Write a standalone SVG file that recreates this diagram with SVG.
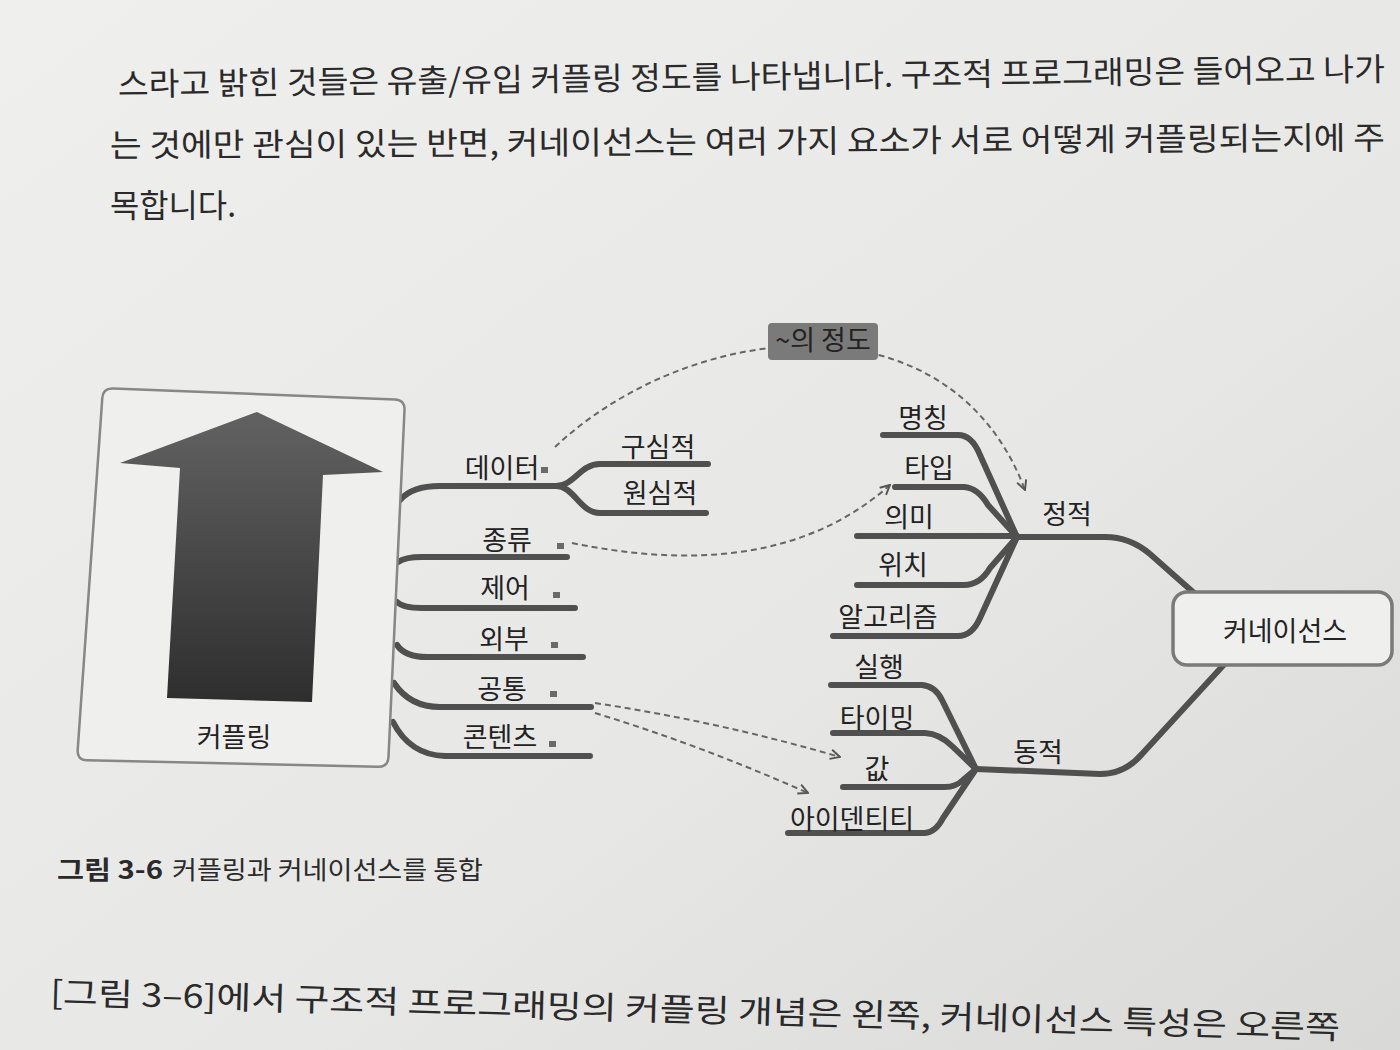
<svg xmlns="http://www.w3.org/2000/svg" width="1400" height="1050" viewBox="0 0 1400 1050">
<defs>
<linearGradient id="page" x1="0" y1="0" x2="1" y2="1">
<stop offset="0" stop-color="#efefed"/>
<stop offset="0.6" stop-color="#e7e7e5"/>
<stop offset="1" stop-color="#d9d9d7"/>
</linearGradient>
<linearGradient id="arrowFill" x1="0" y1="0" x2="0" y2="1">
<stop offset="0" stop-color="#626262"/>
<stop offset="1" stop-color="#2e2e2e"/>
</linearGradient>
<marker id="open" viewBox="0 0 10 10" refX="9" refY="5" markerWidth="12" markerHeight="12" markerUnits="userSpaceOnUse" orient="auto">
<path d="M1,1 L9,5 L1,9" fill="none" stroke="#555" stroke-width="1.6"/>
</marker>
</defs>
<style>
.body{font-family:"Noto Sans CJK KR","Noto Sans CJK SC",sans-serif;font-size:32px;fill:#2a2a2a}
.lbl{font-family:"Noto Sans CJK KR","Noto Sans CJK SC",sans-serif;font-size:27px;fill:#222;text-anchor:middle}
.cap{font-family:"Noto Sans CJK KR","Noto Sans CJK SC",sans-serif;font-size:25px;fill:#2a2a2a}
.br{fill:none;stroke:#505050;stroke-width:6;stroke-linecap:round;stroke-linejoin:round}
.dash{fill:none;stroke:#666;stroke-width:2;stroke-dasharray:6 4}
.icon{fill:#6a6a6a}
</style>
<rect x="0" y="0" width="1400" height="1050" fill="url(#page)"/>

<g id="page-text">
<text class="body" x="118" y="96" textLength="1267" lengthAdjust="spacingAndGlyphs" transform="rotate(-0.7 118 96)">스라고 밝힌 것들은 유출/유입 커플링 정도를 나타냅니다. 구조적 프로그래밍은 들어오고 나가</text>
<text class="body" x="110" y="157" textLength="1275" lengthAdjust="spacingAndGlyphs" transform="rotate(-0.35 110 157)">는 것에만 관심이 있는 반면, 커네이선스는 여러 가지 요소가 서로 어떻게 커플링되는지에 주</text>
<text class="body" x="110" y="217" textLength="126" lengthAdjust="spacingAndGlyphs">목합니다.</text>
<text class="body" x="50" y="1004" textLength="1290" lengthAdjust="spacingAndGlyphs" transform="rotate(1.55 50 1004)">[그림 3–6]에서 구조적 프로그래밍의 커플링 개념은 왼쪽, 커네이선스 특성은 오른쪽</text>
</g>

<g id="caption">
<text class="cap" x="57" y="879" font-weight="bold" textLength="106" lengthAdjust="spacingAndGlyphs">그림 3-6</text>
<text class="cap" x="172" y="879" textLength="311" lengthAdjust="spacingAndGlyphs">커플링과 커네이선스를 통합</text>
</g>

<g id="connectors">
<path class="br" d="M400,500 Q412,486 440,486 H556"/>
<path class="br" d="M556,486 C574,486 580,464 600,464 H708"/>
<path class="br" d="M556,486 C574,486 580,513 600,513 H706"/>
<path class="br" stroke="#5c5c5c" d="M398,562 Q405,557 422,557 H567"/>
<path class="br" stroke="#444" d="M397,602 Q403,608 422,608 H575"/>
<path class="br" stroke="#a0a0a0" d="M397,645 Q405,657 427,657 H583"/>
<path class="br" stroke="#5e5e5e" d="M394,683 Q410,707 440,707 H591"/>
<path class="br" stroke="#444" d="M393,722 Q410,755 445,756 H590"/>
<path class="br" d="M883,435 H958 Q972,435 980,455 L1017,537"/>
<path class="br" d="M895,487 H964 Q978,488 988,505 L1017,537"/>
<path class="br" d="M857,536 H1017"/>
<path class="br" d="M857,585 H964 Q980,585 990,568 L1017,537"/>
<path class="br" d="M833,636 H958 Q972,636 980,618 L1017,537"/>
<path class="br" d="M1017,537 H1105 Q1130,537 1150,554 L1202,600"/>
<path class="br" d="M831,685 H922 Q935,686 942,700 L976,769"/>
<path class="br" d="M833,733 H925 Q940,734 952,746 L976,769"/>
<path class="br" d="M843,787 H945 Q956,787 963,780 L976,769"/>
<path class="br" d="M788,833 H925 Q936,832 943,818 L976,769"/>
<path class="br" d="M976,769 L1100,774 Q1125,774 1142,754 L1230,658"/>
<path class="dash" d="M555,447 C690,320 950,290 1025,490" marker-end="url(#open)"/>
<path class="dash" d="M572,543 C680,565 800,565 890,485" marker-end="url(#open)"/>
<path class="dash" d="M595,703 Q720,722 840,757" marker-end="url(#open)"/>
<path class="dash" d="M595,713 Q700,745 808,793" marker-end="url(#open)"/>
</g>

<g id="coupling">
<path d="M113,388.4 L395,399.6 Q405,400 404.5,410 L388.5,757 Q388,767 378,766.8 L87,760.2 Q77,760 77.7,750 L102.3,398 Q103,388 113,388.4 Z" fill="#efefed" stroke="#878787" stroke-width="2.5"/>
<polygon points="257,412 383,472 323,475 312,702 167,698 180,468 120,463" fill="url(#arrowFill)"/>
<text class="lbl" x="234" y="747" font-size="28">커플링</text>
</g>

<g id="degree">
<rect x="768" y="323" width="110" height="37" rx="4" fill="#7a7a7a"/>
<text class="lbl" x="823" y="350" font-size="19" fill="#555">~의 정도</text>
</g>

<g id="connascence">
<rect x="1173" y="592" width="219" height="73" rx="14" fill="#efefed" stroke="#7a7a7a" stroke-width="3.5"/>
<text class="lbl" x="1285" y="641" font-size="31">커네이선스</text>
</g>

<g id="data"><text class="lbl" x="502" y="478">데이터</text><rect class="icon" x="541" y="467" width="7" height="6"/></g>
<g id="afferent"><text class="lbl" x="658" y="457">구심적</text></g>
<g id="efferent"><text class="lbl" x="660" y="503">원심적</text></g>
<g id="stamp"><text class="lbl" x="507" y="550">종류</text><rect class="icon" x="557" y="543" width="7" height="6"/></g>
<g id="control"><text class="lbl" x="505" y="598">제어</text><rect class="icon" x="553" y="592" width="7" height="6"/></g>
<g id="external"><text class="lbl" x="504" y="649">외부</text><rect class="icon" x="551" y="642" width="7" height="6"/></g>
<g id="common"><text class="lbl" x="502" y="699">공통</text><rect class="icon" x="550" y="691" width="7" height="6"/></g>
<g id="content"><text class="lbl" x="500" y="747">콘텐츠</text><rect class="icon" x="549" y="741" width="7" height="6"/></g>

<g id="static"><text class="lbl" x="1067" y="524">정적</text></g>
<g id="name"><text class="lbl" x="923" y="428">명칭</text></g>
<g id="type"><text class="lbl" x="929" y="478">타입</text></g>
<g id="meaning"><text class="lbl" x="909" y="527">의미</text></g>
<g id="position"><text class="lbl" x="903" y="575">위치</text></g>
<g id="algorithm"><text class="lbl" x="888" y="627">알고리즘</text></g>

<g id="dynamic"><text class="lbl" x="1038" y="762">동적</text></g>
<g id="execution"><text class="lbl" x="879" y="677">실행</text></g>
<g id="timing"><text class="lbl" x="877" y="728">타이밍</text></g>
<g id="values"><text class="lbl" x="877" y="779">값</text></g>
<g id="identity"><text class="lbl" x="852" y="829">아이덴티티</text></g>
</svg>
